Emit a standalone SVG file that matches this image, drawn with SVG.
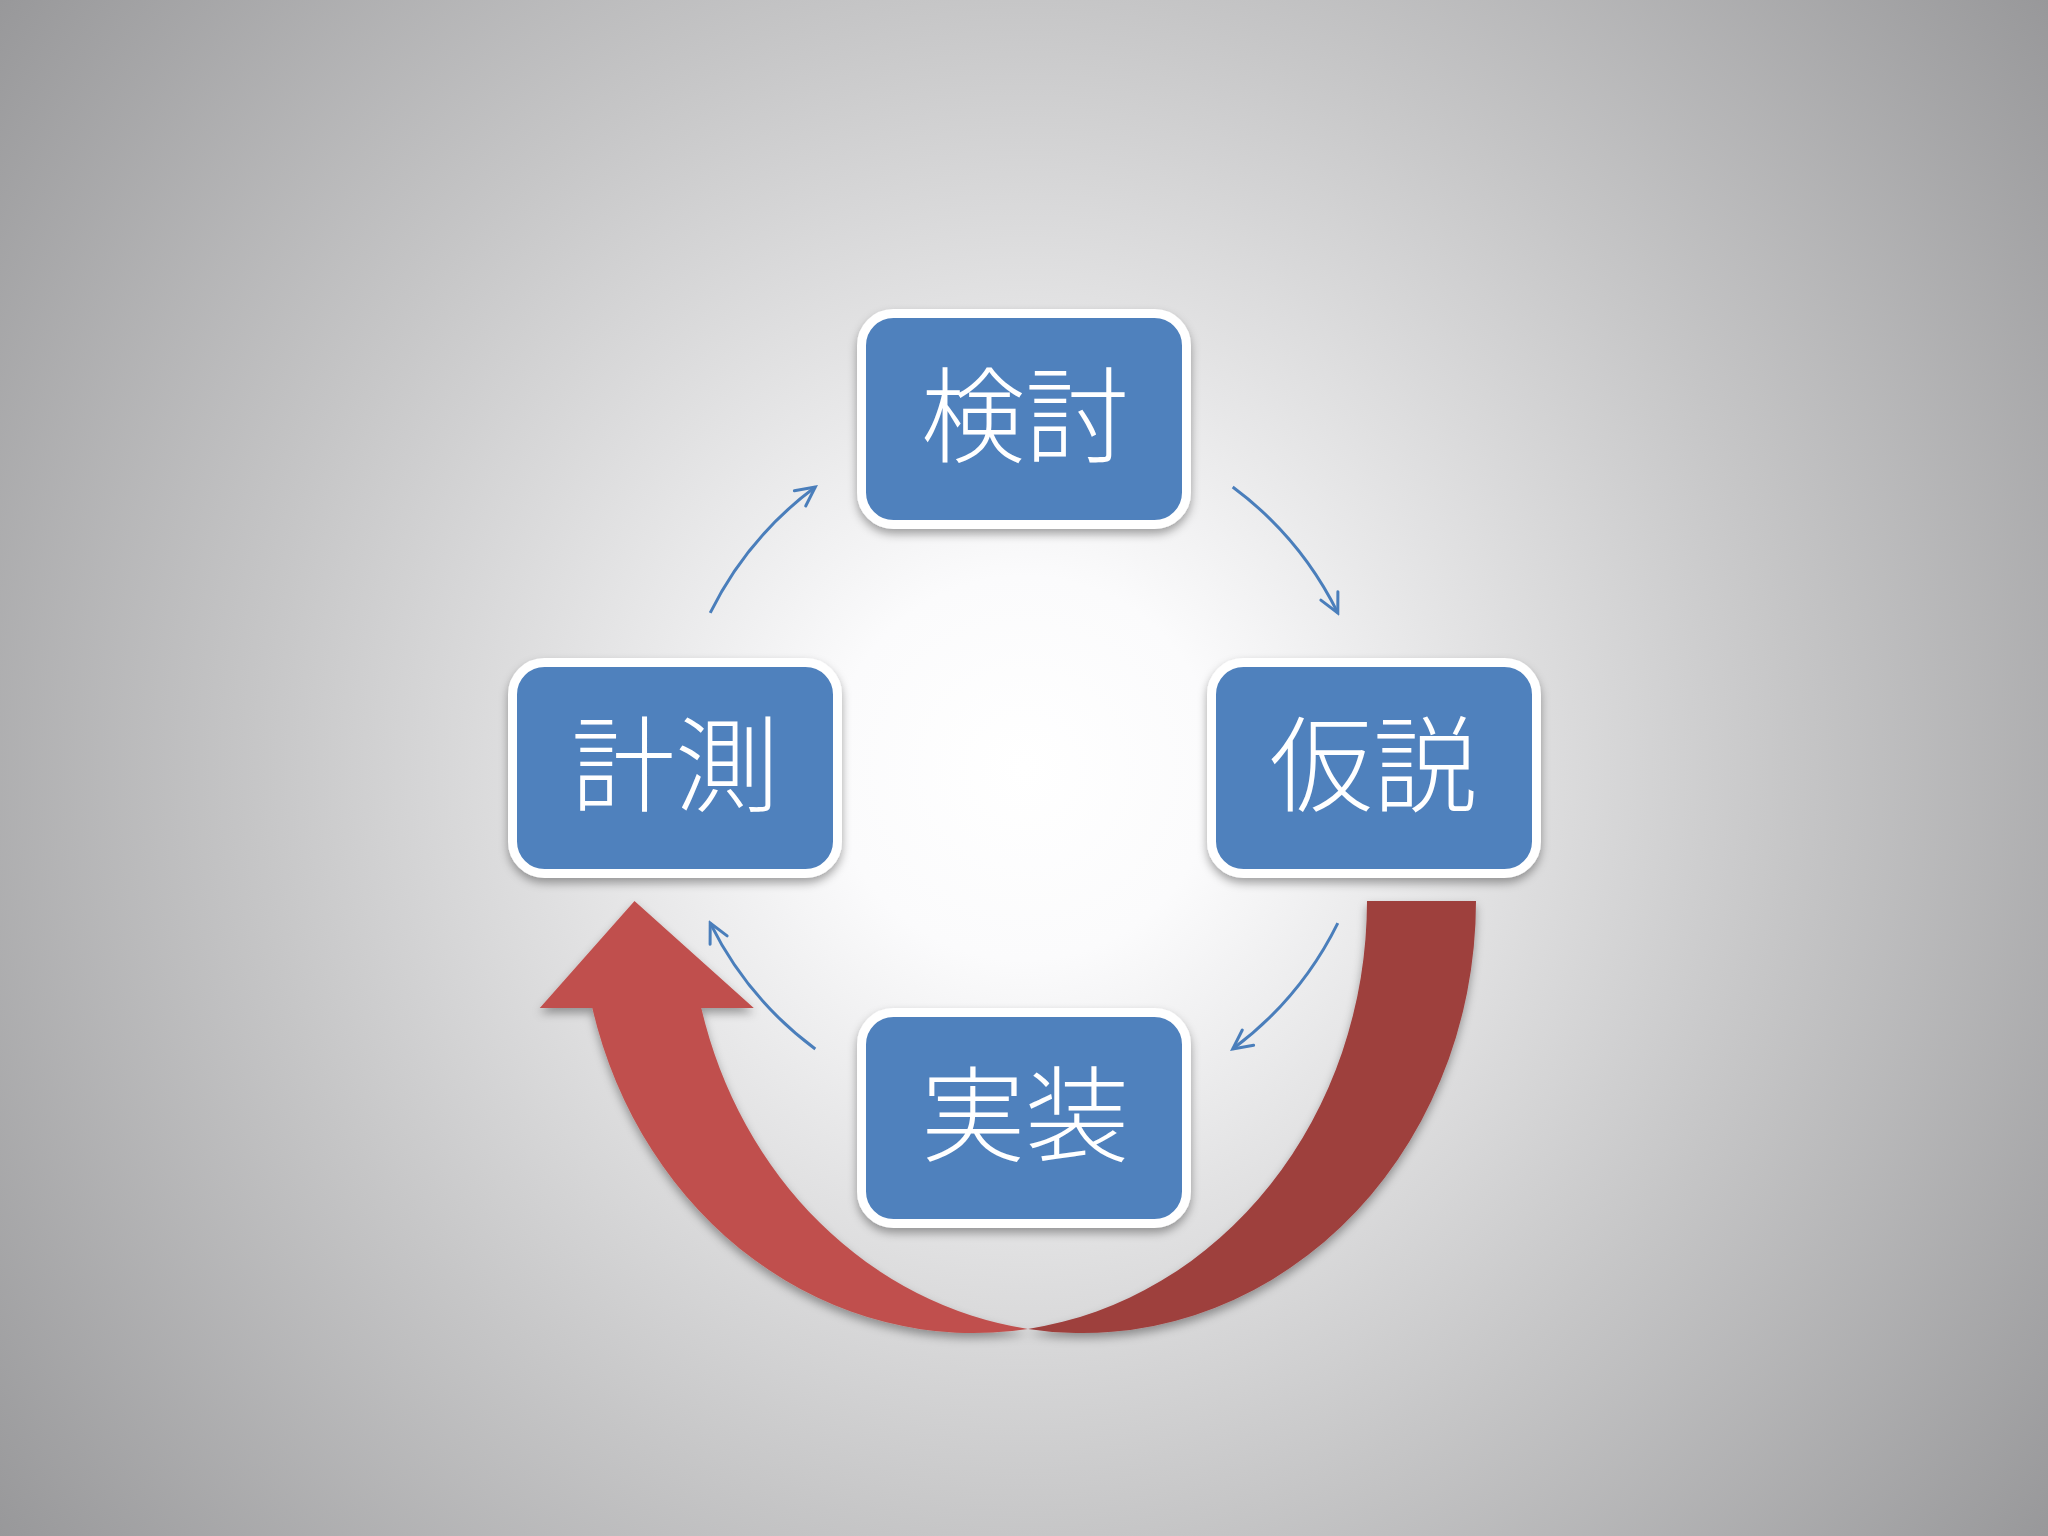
<svg xmlns="http://www.w3.org/2000/svg" width="2048" height="1536" viewBox="0 0 2048 1536">
  <defs>
    <radialGradient id="bg" gradientUnits="userSpaceOnUse" cx="1024" cy="768" r="1280">
      <stop offset="0" stop-color="#ffffff"/>
      <stop offset="0.15" stop-color="#fbfbfc"/>
      <stop offset="0.6" stop-color="#c6c6c7"/>
      <stop offset="1" stop-color="#98989a"/>
    </radialGradient>
    <filter id="shadow" x="-10%" y="-10%" width="120%" height="130%">
      <feDropShadow dx="0" dy="5" stdDeviation="5" flood-color="#000" flood-opacity="0.35"/>
    </filter>
    <marker id="open" markerUnits="userSpaceOnUse" markerWidth="26" markerHeight="26" viewBox="-23 -13 26 26" refX="0" refY="0" orient="auto">
      <path d="M-19,-9.5 L0,0 L-19,9.5" fill="none" stroke="#4a7ebb" stroke-width="3" stroke-linecap="round" stroke-linejoin="miter"/>
    </marker>
    <style>
      .box { fill: #4f81bd; stroke: #ffffff; stroke-width: 9; }
      .lbl { font-family: "Noto Sans CJK JP", "Noto Sans CJK SC", sans-serif; font-size: 104px; font-weight: 300; fill: #ffffff; text-anchor: middle; dominant-baseline: central; }
      .conn { fill: none; stroke: #4a7ebb; stroke-width: 3; marker-end: url(#open); }
    </style>
  </defs>

  <rect x="0" y="0" width="2048" height="1536" fill="url(#bg)"/>

  <g id="big-arrow" filter="url(#shadow)">
    <path d="M 1476 901 A 393.5 432 0 0 1 1028 1328.9 A 393.5 432 0 0 0 1367 901 Z" fill="#9e3f3d"/>
    <path d="M 634.5 901 L 753.8 1008 L 701.3 1008 A 393.5 432 0 0 0 1028 1328.9 A 393.5 432 0 0 1 592.3 1008 L 539.8 1008 Z" fill="#c0504d"/>
  </g>

  <g id="connectors">
    <path class="conn" d="M 710.2 612.9 A 350 350 0 0 1 815.3 487"/>
    <path class="conn" d="M 1232.7 487 A 350 350 0 0 1 1337.8 612.9"/>
    <path class="conn" d="M 1337.8 923.1 A 350 350 0 0 1 1232.7 1049"/>
    <path class="conn" d="M 815.3 1049 A 350 350 0 0 1 710.2 923.1"/>
  </g>

  <g id="node-kentou" filter="url(#shadow)">
    <rect class="box" x="861.5" y="313.5" width="325" height="211" rx="32"/>
    <text class="lbl" x="1025" y="409">検討</text>
  </g>
  <g id="node-keisoku" filter="url(#shadow)">
    <rect class="box" x="512.5" y="662.5" width="325" height="211" rx="32"/>
    <text class="lbl" x="675" y="758">計測</text>
  </g>
  <g id="node-kasetsu" filter="url(#shadow)">
    <rect class="box" x="1211.5" y="662.5" width="325" height="211" rx="32"/>
    <text class="lbl" x="1373" y="758">仮説</text>
  </g>
  <g id="node-jissou" filter="url(#shadow)">
    <rect class="box" x="861.5" y="1012.5" width="325" height="211" rx="32"/>
    <text class="lbl" x="1025" y="1108">実装</text>
  </g>
</svg>
